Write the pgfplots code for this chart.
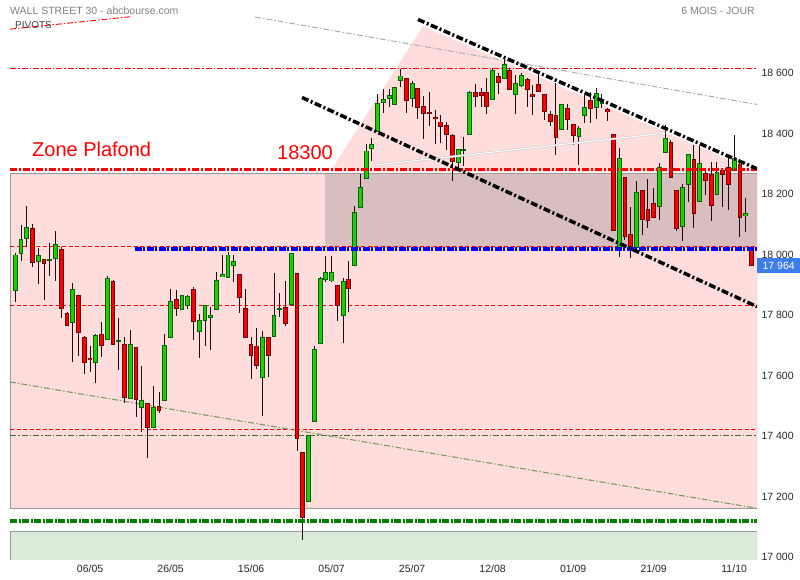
\documentclass[border=0pt]{standalone}
\usepackage{fontspec}
\setmainfont{Liberation Sans}
\usepackage{pgfplots}
\usepackage{pgfplotstable}
\pgfplotsset{compat=1.18}
\definecolor{zonepink}{RGB}{255,221,221}
\definecolor{darkzone}{RGB}{216,190,190}
\definecolor{greenzone}{RGB}{218,235,218}
\definecolor{upfill}{RGB}{34,204,0}
\definecolor{upedge}{RGB}{0,100,0}
\definecolor{dnfill}{RGB}{250,0,0}
\definecolor{dnedge}{RGB}{110,0,0}
\definecolor{wickc}{RGB}{35,10,10}
\definecolor{pivgreen}{RGB}{60,110,40}
\definecolor{olivel}{RGB}{125,155,100}
\definecolor{tagblue}{RGB}{60,125,235}
\definecolor{chgreen}{RGB}{0,128,0}

\pgfplotstableread{
i o h l c
0 17881 18005 17845 17999
1 18003 18098 17980 18049
2 18054 18161 18026 18091
4 17978 18023 17903 17998
6 17982 18038 17931 17984
7 17987 18078 17913 18034
10 17775 17905 17646 17886
14 17644 17738 17577 17733
16 17720 17931 17718 17922
18 17713 17791 17619 17716
20 17525 17751 17523 17703
22 17495 17632 17414 17518
24 17428 17566 17426 17496
26 17517 17738 17515 17700
27 17725 17886 17723 17846
29 17819 17868 17817 17866
30 17833 17866 17819 17863
32 17745 17804 17659 17783
33 17782 17835 17698 17833
34 17792 17827 17685 17800
35 17819 17942 17817 17915
36 17928 17999 17926 17933
37 17925 18008 17923 17999
38 17964 17999 17911 17978
43 17594 17748 17467 17727
45 17729 17939 17727 17800
46 17820 17873 17795 17823
48 17836 18007 17834 18005
51 17183 17403 17181 17401
52 17448 17698 17446 17687
53 17706 17926 17704 17922
54 17917 17996 17911 17942
55 17913 17996 17911 17942
57 17798 17922 17709 17912
59 17964 18161 17961 18140
60 18157 18266 18155 18221
61 18251 18366 18249 18343
62 18351 18385 18311 18365
63 18407 18532 18405 18501
64 18503 18549 18468 18512
65 18516 18549 18488 18528
66 18498 18556 18496 18554
67 18577 18614 18554 18591
69 18517 18575 18488 18565
77 18306 18350 18280 18349
78 18346 18390 18293 18348
79 18398 18540 18396 18537
83 18515 18617 18513 18608
85 18584 18647 18582 18630
87 18531 18594 18466 18567
88 18560 18600 18556 18593
95 18413 18499 18411 18497
98 18392 18427 18297 18416
99 18460 18528 18437 18488
101 18488 18550 18448 18534
102 18502 18531 18484 18504
105 18023 18352 17993 18319
108 18023 18244 18021 18206
112 18160 18302 18116 18289
113 18339 18430 18337 18385
116 18093 18233 18046 18222
117 18233 18334 18175 18332
119 18175 18360 18173 18302
122 18200 18308 18198 18271
125 18280 18396 18278 18319
127 18128 18187 18076 18137
}\upc

\pgfplotstableread{
i o h l c
3 18087 18101 17960 17974
5 17985 17987 17850 17970
8 18018 18026 17792 17823
9 17806 17810 17764 17766
11 17866 17868 17665 17743
12 17727 17731 17604 17644
13 17658 17698 17611 17654
15 17737 17777 17663 17700
17 17912 17915 17701 17704
19 17704 17727 17508 17527
21 17694 17696 17464 17522
23 17508 17510 17326 17428
25 17499 17546 17475 17485
28 17852 17883 17798 17821
31 17886 17893 17718 17780
39 17933 17935 17808 17858
40 17823 17886 17723 17725
41 17704 17727 17590 17666
42 17698 17758 17622 17633
44 17727 17729 17596 17666
47 17826 17912 17765 17772
49 17938 17941 17352 17391
50 17346 17348 17056 17130
56 17899 17901 17782 17833
58 17919 17979 17811 17888
68 18584 18586 18468 18511
70 18550 18552 18450 18488
71 18491 18525 18384 18468
72 18470 18537 18427 18467
73 18455 18479 18365 18451
74 18439 18462 18369 18425
75 18428 18439 18346 18397
76 18395 18399 18245 18309
80 18535 18564 18490 18524
81 18535 18552 18490 18526
82 18537 18584 18466 18490
84 18591 18600 18531 18569
86 18610 18617 18545 18547
89 18580 18584 18488 18547
90 18531 18561 18462 18524
91 18564 18603 18537 18539
92 18531 18533 18445 18473
93 18464 18475 18427 18440
94 18461 18567 18330 18388
96 18484 18497 18413 18446
97 18431 18434 18363 18394
100 18511 18539 18437 18484
103 18481 18484 18443 18473
104 18398 18400 18079 18081
106 18256 18258 18049 18060
107 18068 18157 17988 18026
109 18211 18213 18065 18116
110 18150 18249 18089 18112
111 18170 18220 18122 18124
114 18372 18379 18254 18256
115 18213 18215 18079 18085
118 18316 18363 18087 18137
120 18269 18283 18197 18245
121 18264 18308 18112 18162
123 18280 18282 18159 18264
124 18289 18319 18147 18233
126 18300 18302 18058 18122
128 18013 18026 17962 17964
}\dnc

\pgfplotsset{
  candle/.style={draw=none, mark=none, fill=none,
    error bars/.cd, y dir=both, y explicit, error mark=none,
    error bar style={line width=#1}},
}

\begin{document}
\begin{tikzpicture}[x=1bp,y=1bp]
\path[use as bounding box] (0,0) rectangle (800,580);
\begin{axis}[
  at={(10bp,20bp)}, anchor=south west,
  scale only axis, width=747bp, height=560bp,
  xmin=-0.92, xmax=128.97, ymin=16990, ymax=18842.5,
  axis x line*=bottom, axis y line*=right,
  axis line style={draw=none},
  major tick length=0pt,
  no markers,
  xtick={13,27,41,55,69,83,97,111,125},
  xticklabels={06/05,26/05,15/06,05/07,25/07,12/08,01/09,21/09,11/10},
  ytick={17000,17200,17400,17600,17800,18000,18200,18400,18600},
  yticklabels={17 000,17 200,17 400,17 600,17 800,18 000,18 200,18 400,18 600},
  ticklabel style={font=\fontsize{10.5bp}{12bp}\selectfont, text=black!85},
  xticklabel style={yshift=-1bp},
  yticklabel style={xshift=1bp},
]
% zones
\addplot[fill=zonepink, draw=gray!80, line width=0.8bp] coordinates {(-0.85,17160) (128.97,17160) (128.97,18270) (-0.85,18270)} -- cycle;
\addplot[fill=zonepink, draw=none] coordinates {(54.7,18273) (70.9,18756) (128.97,18273)} -- cycle;
\addplot[fill=darkzone, draw=none] coordinates {(53.86,18022) (128.97,18022) (128.97,18268) (53.86,18268)} -- cycle;
\addplot[fill=greenzone, draw=gray!80, line width=0.8bp] coordinates {(-0.92,16985) (128.97,16985) (128.97,17086) (-0.92,17086)} -- cycle;
% pivot lines
\addplot[red, line width=0.9bp, dash pattern=on 6bp off 2bp on 1.5bp off 2bp] coordinates {(-0.92,18616) (128.97,18616)};
\addplot[red, line width=0.9bp, dash pattern=on 4bp off 2.5bp] coordinates {(-0.92,18027) (128.97,18027)};
\addplot[red, line width=0.9bp, dash pattern=on 4bp off 2.5bp] coordinates {(-0.92,17832) (128.97,17832)};
\addplot[red, line width=0.9bp, dash pattern=on 4bp off 2.5bp] coordinates {(-0.92,17422) (128.97,17422)};
\addplot[pivgreen, line width=0.9bp, dash pattern=on 6bp off 2bp on 1.5bp off 2bp] coordinates {(-0.92,17402) (128.97,17402)};
\addplot[gray!70, line width=0.9bp, dash pattern=on 6bp off 2bp on 1.5bp off 2bp] coordinates {(41.7,18786) (128.97,18497)};
\addplot[olivel, line width=1.1bp, dash pattern=on 6bp off 2bp on 1.5bp off 2bp] coordinates {(-0.92,17579) (128.97,17161)};
\addplot[red, line width=0.9bp, dash pattern=on 6bp off 2bp on 1.5bp off 2bp] coordinates {(-0.92,18746) (19.95,18787)};
% candles: wicks
\addplot[candle=1bp, error bar style={draw=wickc, solid}]
  table[x=i, y expr={(\thisrow{h}+\thisrow{l})/2}, y error expr={(\thisrow{h}-\thisrow{l})/2}] {\upc};
\addplot[candle=1bp, error bar style={draw=wickc, solid}]
  table[x=i, y expr={(\thisrow{h}+\thisrow{l})/2}, y error expr={(\thisrow{h}-\thisrow{l})/2}] {\dnc};
% bodies
\addplot[candle=4.8bp, error bar style={draw=upedge, solid}]
  table[x=i, y expr={(\thisrow{o}+\thisrow{c})/2}, y error expr={abs(\thisrow{c}-\thisrow{o})/2+1.6}] {\upc};
\addplot[candle=2.8bp, error bar style={draw=upfill, solid}]
  table[x=i, y expr={(\thisrow{o}+\thisrow{c})/2}, y error expr={max(abs(\thisrow{c}-\thisrow{o})/2-1.6,0)}] {\upc};
\addplot[candle=4.8bp, error bar style={draw=dnedge, solid}]
  table[x=i, y expr={(\thisrow{o}+\thisrow{c})/2}, y error expr={abs(\thisrow{c}-\thisrow{o})/2+1.6}] {\dnc};
\addplot[candle=2.8bp, error bar style={draw=dnfill, solid}]
  table[x=i, y expr={(\thisrow{o}+\thisrow{c})/2}, y error expr={max(abs(\thisrow{c}-\thisrow{o})/2-1.6,0)}] {\dnc};
% drawing tools
\addplot[gray!40, line width=2.2bp] coordinates {(62.9,18297) (113,18402)};
\addplot[white, line width=1bp] coordinates {(62.9,18297) (113,18402)};
\addplot[red, line width=2.7bp, dash pattern=on 7bp off 2bp on 2bp off 2bp] coordinates {(-0.92,18282) (128.97,18282)};
\addplot[blue, line width=3.3bp, dash pattern=on 7bp off 1.5bp on 2bp off 1.5bp] coordinates {(20.8,18019) (128.97,18019)};
\addplot[chgreen, line width=3.5bp, dash pattern=on 7bp off 1.5bp on 2bp off 1.5bp] coordinates {(-0.92,17119) (128.97,17119)};
\addplot[black, line width=3.5bp, dash pattern=on 7bp off 2.5bp on 2bp off 2.5bp] coordinates {(70.03,18778) (128.97,18284)};
\addplot[black, line width=3.5bp, dash pattern=on 7bp off 2.5bp on 2bp off 2.5bp] coordinates {(49.86,18520) (128.97,17828)};
% texts
\node[anchor=west, text=red, inner sep=0, font=\fontsize{20bp}{24bp}\selectfont] at (axis cs:2.9,18350) {Zone Plafond};
\node[anchor=east, text=red, inner sep=0, font=\fontsize{20bp}{24bp}\selectfont] at (axis cs:55.25,18336) {18300};
\coordinate (tag) at (axis cs:128.97,17964);
\end{axis}
\node[anchor=west, fill=tagblue, text=white, minimum width=43bp, minimum height=15bp, inner sep=0, font=\fontsize{10.5bp}{12bp}\selectfont] at (tag) {17 964};
\node[anchor=west, inner sep=0, text=black!50, font=\fontsize{10.5bp}{12bp}\selectfont] at (10,569) {WALL STREET 30 - abcbourse.com};
\node[anchor=west, inner sep=0, text=black!75, font=\fontsize{10bp}{12bp}\selectfont] at (15,555) {PIVOTS};
\node[anchor=east, inner sep=0, text=black!50, font=\fontsize{10.5bp}{12bp}\selectfont] at (755,569) {6 MOIS - JOUR};
\end{tikzpicture}
\end{document}
